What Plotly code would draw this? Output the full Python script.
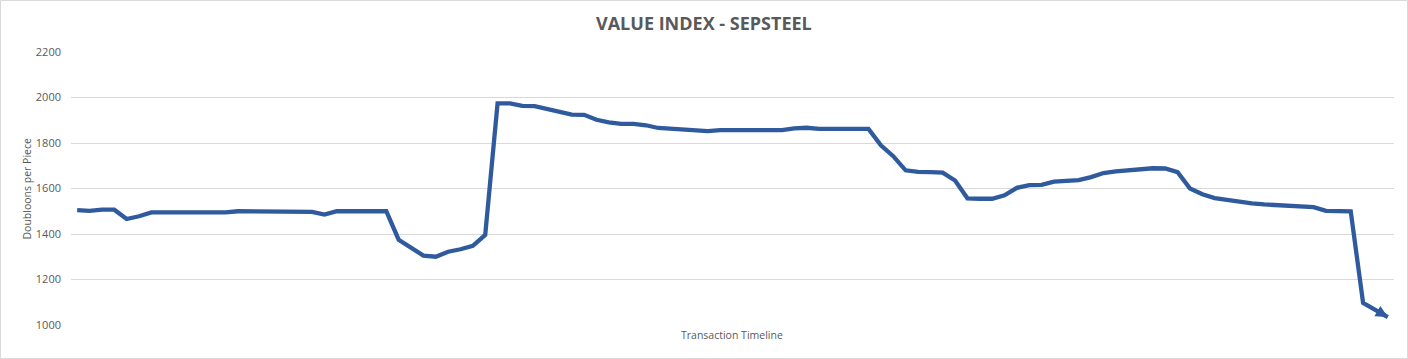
import plotly.graph_objects as go

# Data (one value per transaction, left to right)
values = [
    1505, 1502, 1507, 1507, 1466, 1478, 1495, 1495, 1495, 1495,
    1495, 1495, 1495, 1500, 1500, 1500, 1500, 1500, 1500, 1497,
    1485, 1500, 1500, 1500, 1500, 1500, 1375, 1340, 1305, 1300,
    1322, 1333, 1348, 1396, 1974, 1974, 1963, 1962, 1950, 1940,
    1925, 1924, 1902, 1891, 1884, 1884, 1878, 1866, 1862, 1858,
    1853, 1852, 1857, 1857, 1857, 1857, 1857, 1857, 1864, 1867,
    1862, 1862, 1862, 1862, 1862, 1790, 1742, 1680, 1673, 1672,
    1670, 1635, 1557, 1555, 1555, 1570, 1603, 1615, 1616, 1630,
    1632, 1637, 1650, 1668, 1675, 1680, 1685, 1689, 1688, 1672,
    1600, 1575, 1558, 1550, 1541, 1535, 1530, 1527, 1524, 1522,
    1518, 1502, 1500, 1500, 1097, 1066, 1035,
]
x_index = list(range(len(values)))

title_text = "VALUE INDEX - SEPSTEEL"
y_title = "Doubloons per Piece"
x_title = "Transaction Timeline"
y_ticks = [1000, 1200, 1400, 1600, 1800, 2000, 2200]

W, H = 1408, 359
L, R, T, B = 71, 14, 52, 34
pw, ph = W - L - R, H - T - B

line_color = "#2F5A9E"
text_color = "#595959"
grid_color = "#D9D9D9"

fig = go.Figure()
fig.add_trace(go.Scatter(
    x=x_index, y=values, mode="lines",
    line=dict(color=line_color, width=4.3),
    hoverinfo="skip", showlegend=False,
))

# arrowhead at the end of the series
fig.add_annotation(
    x=x_index[-1], y=values[-1], ax=x_index[-2], ay=values[-2],
    xref="x", yref="y", axref="x", ayref="y",
    text="", showarrow=True, arrowhead=2, arrowsize=0.6,
    arrowwidth=4, arrowcolor=line_color, standoff=0, startstandoff=0,
)

fig.add_annotation(
    x=(W / 2 - L) / pw, y=(H - B - 23) / ph, xref="paper", yref="paper",
    text="<b>" + title_text + "</b>", showarrow=False,
    font=dict(family="Open Sans", size=18, color=text_color),
    xanchor="center", yanchor="middle",
)
fig.add_annotation(
    x=(26 - L) / pw, y=0.5, xref="paper", yref="paper",
    text=y_title, showarrow=False, textangle=-90,
    font=dict(family="Open Sans", size=10.5, color=text_color),
    xanchor="center", yanchor="middle",
)
fig.add_annotation(
    x=(732 - L) / pw, y=(H - B - 335) / ph, xref="paper", yref="paper",
    text=x_title, showarrow=False,
    font=dict(family="Open Sans", size=10.5, color=text_color),
    xanchor="center", yanchor="middle",
)

# chart border
fig.add_shape(
    type="rect", xref="paper", yref="paper",
    x0=(0.5 - L) / pw, x1=(W - 0.5 - L) / pw,
    y0=(H - B - (H - 0.5)) / ph, y1=(H - B - 0.5) / ph,
    line=dict(color=grid_color, width=1), fillcolor="rgba(0,0,0,0)", layer="below",
)

fig.update_layout(
    width=W, height=H,
    margin=dict(l=L, r=R, t=T, b=B),
    paper_bgcolor="white", plot_bgcolor="white",
    showlegend=False,
    xaxis=dict(range=[-0.5, len(values) - 0.5], showgrid=False, showticklabels=False,
               zeroline=False, showline=False, ticks=""),
    yaxis=dict(range=[1000, 2200], tickvals=y_ticks, showgrid=True, gridcolor=grid_color,
               gridwidth=1, zeroline=False, showline=False, ticks="",
               ticklabelstandoff=9,
               tickfont=dict(family="Open Sans", size=11, color=text_color)),
)

fig.write_html(
    "out.html",
    config={"displayModeBar": False, "staticPlot": True},
    post_script="document.body.style.margin='0';document.body.style.overflow='hidden';",
)
